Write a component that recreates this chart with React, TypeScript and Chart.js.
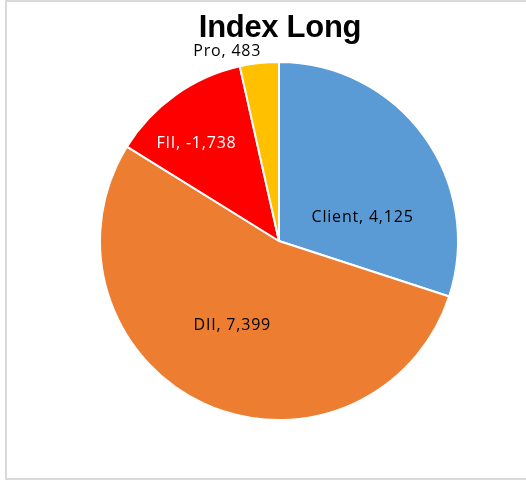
import React, { useEffect, useRef } from "react";
import { Chart, registerables } from "chart.js";

Chart.register(...registerables);

const TITLE = "Index Long";
const categories = ["Client", "DII", "FII", "Pro"];
const netValues = [4125, 7399, -1738, 483];
const colors = ["#5B9BD5", "#ED7D31", "#FF0000", "#FFC000"];
const labelColors = ["#000000", "#000000", "#FFFFFF", "#000000"];
// label offsets relative to pie centre, in units of radius
const labelOffsets = [
  [0.467, -0.133],
  [-0.261, 0.472],
  [-0.461, -0.544],
  [-0.289, -1.061],
];

const fmt = (v: number) => (v < 0 ? "-" : "") + Math.abs(v).toLocaleString("en-US");

const labelPlugin = {
  id: "customLabels",
  afterDraw(chart: any) {
    const ctx = chart.ctx;
    ctx.save();
    // title
    ctx.font = "bold 31px 'Liberation Sans', Arial, sans-serif";
    ctx.fillStyle = "#000";
    ctx.textAlign = "center";
    ctx.textBaseline = "alphabetic";
    (ctx as any).letterSpacing = "-0.3px";
    ctx.fillText(TITLE, 280, 37);
    const meta = chart.getDatasetMeta(0);
    ctx.font = "16px 'Open Sans', sans-serif";
    (ctx as any).letterSpacing = "0.8px";
    ctx.textBaseline = "middle";
    meta.data.forEach((arc: any, i: number) => {
      const r = arc.outerRadius;
      const x = arc.x + labelOffsets[i][0] * r;
      const y = arc.y + labelOffsets[i][1] * r;
      ctx.fillStyle = labelColors[i];
      ctx.fillText(`${categories[i]}, ${fmt(netValues[i])}`, x, y);
    });
    ctx.restore();
  },
};

export default function App() {
  const ref = useRef<HTMLCanvasElement>(null);
  useEffect(() => {
    if (!ref.current) return;
    const chart = new Chart(ref.current, {
      type: "pie",
      data: {
        labels: categories,
        datasets: [
          {
            data: netValues.map((v) => Math.abs(v)),
            backgroundColor: colors,
            borderColor: "#FFFFFF",
            borderWidth: 2,
          },
        ],
      },
      options: {
        animation: false,
        responsive: false,
        layout: { padding: { left: 99, right: 67, top: 61, bottom: 59 } },
        plugins: {
          legend: { display: false },
          tooltip: { enabled: false },
          title: { display: false },
        },
      },
      plugins: [labelPlugin],
    });
    return () => chart.destroy();
  }, []);
  return (
    <div style={{ position: "absolute", left: 0, top: 0, width: 526, height: 480, background: "#fff" }}>
      <div
        style={{
          position: "absolute",
          left: 5,
          top: 0,
          width: 530,
          height: 476,
          border: "2px solid #D9D9D9",
          boxSizing: "content-box",
        }}
      />
      <canvas ref={ref} width={526} height={480} style={{ position: "absolute", left: 0, top: 0 }} />
    </div>
  );
}
